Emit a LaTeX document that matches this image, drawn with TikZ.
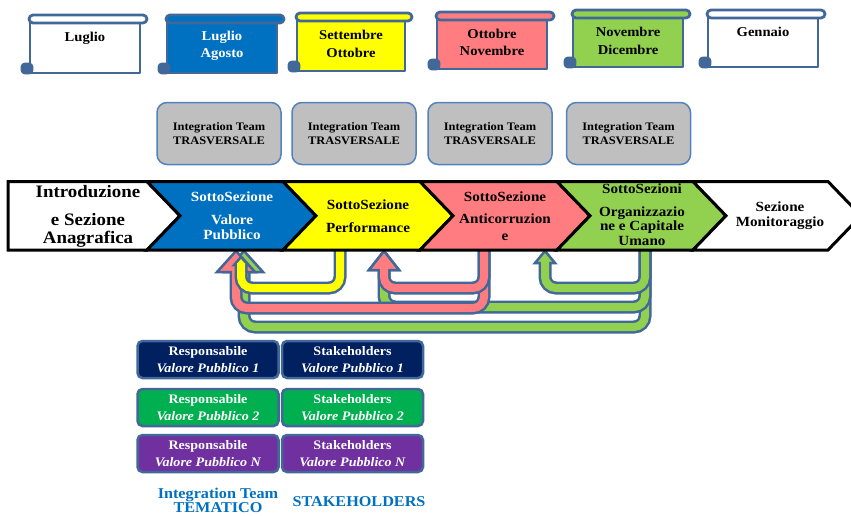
\documentclass[tikz,border=0pt]{standalone}
\usepackage{fontspec}
\setmainfont{Liberation Serif}[FakeStretch=1.08]
\usetikzlibrary{calc}
\definecolor{ol}{RGB}{65,104,152}
\definecolor{pblue}{RGB}{0,112,192}
\definecolor{pyel}{RGB}{255,255,0}
\definecolor{psal}{RGB}{255,124,128}
\definecolor{pgrn}{RGB}{146,208,80}
\definecolor{gbox}{RGB}{191,191,191}
\definecolor{gboxol}{RGB}{84,130,190}
\definecolor{navy}{RGB}{0,32,96}
\definecolor{dgrn}{RGB}{0,176,80}
\definecolor{purp}{RGB}{112,48,160}
\definecolor{lblue}{RGB}{0,112,192}
\tikzset{
 scrollol/.style={draw=ol, line width=2.8pt, line join=round},
 scrolltxt/.style={font=\bfseries\fontsize{13.5}{17.5}\selectfont, align=center, inner sep=0pt},
 itbox/.style={draw=gboxol, fill=gbox, line width=1.5pt, rounded corners=10pt, minimum width=124pt, minimum height=62pt, inner sep=0pt, align=center, font=\bfseries\fontsize{11.5}{14.5}\selectfont},
 chev/.style={draw=black, line width=3pt, line join=miter},
 chevtxt/.style={font=\bfseries\fontsize{14}{15}\selectfont, align=center, inner sep=0pt},
 arrOut/.style={draw=ol, line width=13pt, rounded corners=11pt},
 arrIn/.style={line width=8pt, rounded corners=11pt},
 head/.style={draw=ol, line width=2.5pt, line join=miter},
 bbox/.style={draw=ol, line width=2.5pt, rounded corners=5pt, minimum width=141pt, minimum height=37pt, inner sep=0pt, align=center, text=white, font=\bfseries\fontsize{13}{16.5}\selectfont},
 lbl/.style={text=lblue, font=\bfseries\fontsize{15}{12}\selectfont, align=center, inner sep=0pt}
}
\newcommand{\myscroll}[5]{%
 \draw[scrollol, fill=#5] (#1,#3+4) rectangle (#2,#4);
 \draw[scrollol, fill=#5, rounded corners=4pt] (#1-1,#3) rectangle (#2+7,#3+8);
 \draw[scrollol, fill=ol, rounded corners=3pt] (#1-8,#4-9) rectangle (#1+2,#4);
}
% #1 colour, #2 start coord, #3 drop, #4 head base coord, #5 half width, #6 head height
\newcommand{\uturn}[6]{%
 \draw[arrOut] (#2) -- ++(0,#3) -| (#4);
 \filldraw[head, fill=#1] ($(#4)+(-#5,0)$) -- ($(#4)+(0,-#6)$) -- ($(#4)+(#5,0)$) -- cycle;
 \draw[arrIn, draw=#1] (#2) -- ++(0,#3) -| ($(#4)+(0,-2)$);
}
\begin{document}
\begin{tikzpicture}[x=1pt,y=-1pt]
\useasboundingbox (0,0) rectangle (851,515);
\fill[white] (0,0) rectangle (851,515);

% scrolls
\myscroll{30}{140}{15}{73}{white}
\myscroll{167}{277}{15}{73}{pblue}
\myscroll{297}{405}{13}{71}{pyel}
\myscroll{437}{547}{12}{69}{psal}
\myscroll{573}{683}{10}{67}{pgrn}
\myscroll{708}{818}{10}{67}{white}
\node[scrolltxt] (m1) at (85,38) {Luglio};
\node[scrolltxt, text=white] (m2) at (222,46) {Luglio\\Agosto};
\node[scrolltxt] (m3) at (351,44) {Settembre\\Ottobre};
\node[scrolltxt] (m4) at (492,42.5) {Ottobre\\Novembre};
\node[scrolltxt] (m5) at (628,41) {Novembre\\Dicembre};
\node[scrolltxt] (m6) at (763,32) {Gennaio};

% integration team boxes
\node[itbox] (it1) at (219,133.5) {Integration Team\\TRASVERSALE};
\node[itbox] (it2) at (354,133.5) {Integration Team\\TRASVERSALE};
\node[itbox] (it3) at (490,133.5) {Integration Team\\TRASVERSALE};
\node[itbox] (it4) at (628.5,133.5) {Integration Team\\TRASVERSALE};

% arrow anchors
\coordinate (perfOut) at (340,249);
\coordinate (antiOut) at (484,249);
\coordinate (orgOut) at (645,249);
\coordinate (vpG) at (244,272);
\coordinate (vpR) at (236,272);
\coordinate (vpY) at (241,265);
\coordinate (pfG) at (384,270);
\coordinate (pfR) at (384,270);
\coordinate (anG) at (545,263);

\uturn{pgrn}{orgOut}{78}{vpG}{19}{21}
\uturn{pgrn}{orgOut}{58}{pfG}{15}{19}
\uturn{psal}{antiOut}{59}{vpR}{19}{21}
\uturn{psal}{antiOut}{39}{pfR}{15}{19}
\uturn{pgrn}{orgOut}{39}{anG}{10}{12}
\uturn{pyel}{perfOut}{39}{vpY}{7}{8}

% chevrons
\begin{scope}
\clip (0,0) rectangle (851,515);
\draw[chev, fill=white] (8,181.5) -- (147,181.5) -- (180,215.75) -- (147,250) -- (8,250) -- cycle;
\draw[chev, fill=pblue] (147,181.5) -- (283,181.5) -- (316,215.75) -- (283,250) -- (147,250) -- (180,215.75) -- cycle;
\draw[chev, fill=pyel] (283,181.5) -- (420,181.5) -- (453,215.75) -- (420,250) -- (283,250) -- (316,215.75) -- cycle;
\draw[chev, fill=psal] (420,181.5) -- (557,181.5) -- (590,215.75) -- (557,250) -- (420,250) -- (453,215.75) -- cycle;
\draw[chev, fill=pgrn] (557,181.5) -- (693,181.5) -- (726,215.75) -- (693,250) -- (557,250) -- (590,215.75) -- cycle;
\draw[chev, fill=white] (693,181.5) -- (828,181.5) -- (861,215.75) -- (828,250) -- (693,250) -- (726,215.75) -- cycle;
\end{scope}
\node[chevtxt, font=\bfseries\fontsize{17.5}{18}\selectfont] (c1) at (88,216) {Introduzione\\[10pt]e Sezione\\Anagrafica};
\node[chevtxt, text=white] (c2) at (232,216) {SottoSezione\\[8pt]Valore\\Pubblico};
\node[chevtxt] (c3) at (368,216) {SottoSezione\\[8pt]Performance};
\node[chevtxt] (c4) at (505,216) {SottoSezione\\[7pt]Anticorruzion\\[2pt]e};
\node[chevtxt, font=\bfseries\fontsize{14}{14.5}\selectfont] (c5) at (642,214.5) {SottoSezioni\\[8.5pt]Organizzazio\\ne e Capitale\\Umano};
\node[chevtxt] (c6) at (780,216) {Sezione\\Monitoraggio};

% bottom boxes
\node[bbox, fill=navy] (r1) at (208,359.5) {Responsabile\\\textit{Valore Pubblico 1}};
\node[bbox, fill=navy] (s1) at (352.5,359.5) {Stakeholders\\\textit{Valore Pubblico 1}};
\node[bbox, fill=dgrn] (r2) at (208,407.5) {Responsabile\\\textit{Valore Pubblico 2}};
\node[bbox, fill=dgrn] (s2) at (352.5,407.5) {Stakeholders\\\textit{Valore Pubblico 2}};
\node[bbox, fill=purp] (r3) at (208,453.5) {Responsabile\\\textit{Valore Pubblico N}};
\node[bbox, fill=purp] (s3) at (352.5,453.5) {Stakeholders\\\textit{Valore Pubblico N}};

\node[lbl] (lt) at (218,500) {Integration Team\\TEMATICO};
\node[lbl] (ls) at (359,502) {STAKEHOLDERS};
\end{tikzpicture}
\end{document}
